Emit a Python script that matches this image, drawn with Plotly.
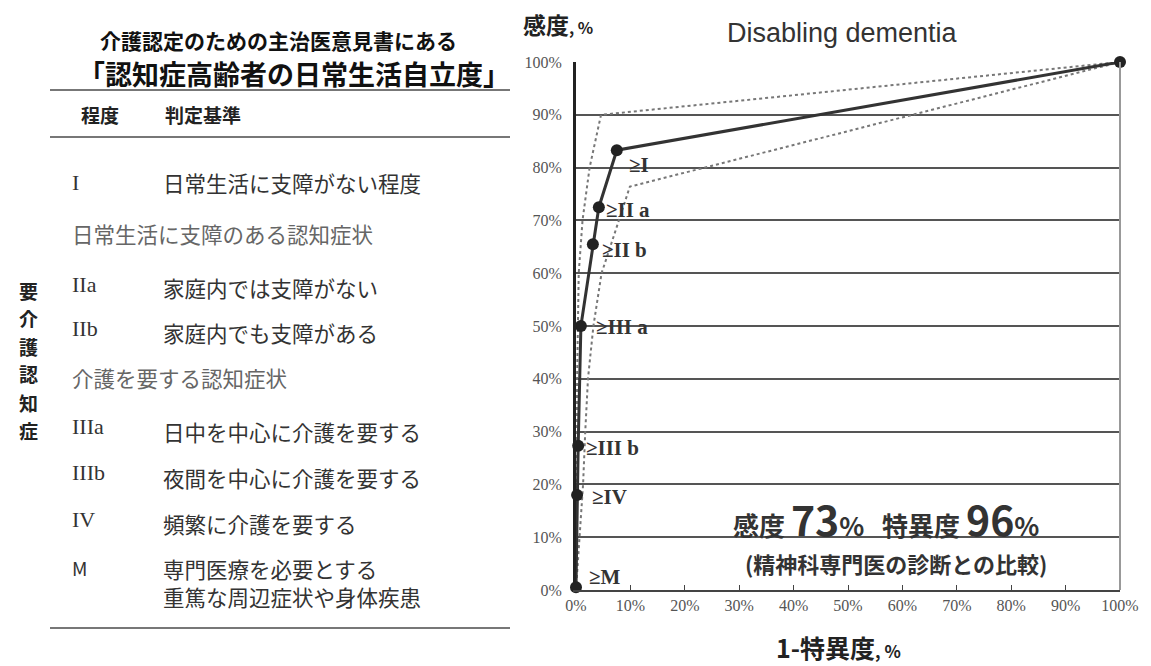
import plotly.graph_objects as go

# ---------------- data ----------------
fpr_pct = [0, 0.2, 0.4, 0.9, 3.1, 4.2, 7.5, 100]
sens_pct = [0.5, 18, 27.3, 50, 65.5, 72.5, 83.3, 100]
point_labels = ["≥M", "≥IV", "≥III b", "≥III a", "≥II b", "≥II a", "≥I", ""]

upper_x = [0, 0.1, 0.2, 0.5, 1.2, 2.5, 4.6, 100]
upper_y = [0, 20, 40, 60, 70, 80, 90, 100]
lower_x = [0, 0.7, 1.3, 1.7, 2.2, 3.2, 4.7, 6.3, 8.1, 9.9, 100]
lower_y = [0, 10, 20, 30, 40, 50, 60, 65, 70.7, 76.4, 100]

tick_vals = [0, 10, 20, 30, 40, 50, 60, 70, 80, 90, 100]
tick_text = [f"{v}%" for v in tick_vals]

table_title1 = "介護認定のための主治医意見書にある"
table_title2 = "「認知症高齢者の日常生活自立度」"
table_head = ["程度", "判定基準"]
grades = ["I", "IIa", "IIb", "IIIa", "IIIb", "IV", "M"]
criteria = ["日常生活に支障がない程度", "家庭内では支障がない", "家庭内でも支障がある",
            "日中を中心に介護を要する", "夜間を中心に介護を要する", "頻繁に介護を要する",
            "専門医療を必要とする<br>重篤な周辺症状や身体疾患"]
group_headers = ["日常生活に支障のある認知症状", "介護を要する認知症状"]
side_label = "要介護認知症"
summary_note = "(精神科専門医の診断との比較)"

# ---------------- layout helpers ----------------
W, H = 1151, 666
L, R, T, B = 576, 1120, 62, 590


def px(x):
    return (x - L) / (R - L)


def py(y):
    return (B - y) / (B - T)


JP = "Noto Sans CJK JP"
SERIF = "Liberation Serif"


def note(x, y, text, size, color="#333", family=JP, xanchor="center"):
    return dict(x=px(x), y=py(y), xref="paper", yref="paper", text=text,
                showarrow=False, xanchor=xanchor, yanchor="middle", align="left",
                font=dict(family=family, size=size, color=color))


fig = go.Figure()

# CI dotted lines
fig.add_trace(go.Scatter(x=upper_x, y=upper_y, mode="lines",
                         line=dict(color="#777", width=2, dash="dot"),
                         hoverinfo="skip", cliponaxis=False, showlegend=False))
fig.add_trace(go.Scatter(x=lower_x, y=lower_y, mode="lines",
                         line=dict(color="#777", width=2, dash="dot"),
                         hoverinfo="skip", cliponaxis=False, showlegend=False))
# main ROC curve
fig.add_trace(go.Scatter(x=fpr_pct, y=sens_pct, mode="lines+markers",
                         line=dict(color="#333", width=3),
                         marker=dict(color="#222", size=12),
                         cliponaxis=False, showlegend=False))

annotations = []
# point labels
label_offsets = [(11, 10), (13, -2), (6, -2), (13, -1), (7, -6), (5, -3), (10, -15), (0, 0)]
for xv, yv, lab, (dx, dy) in zip(fpr_pct, sens_pct, point_labels, label_offsets):
    if not lab:
        continue
    annotations.append(dict(x=xv, y=yv, xref="x", yref="y", text=f"<b>{lab}</b>",
                            showarrow=False, xanchor="left", yanchor="middle",
                            xshift=dx, yshift=dy,
                            font=dict(family=SERIF, size=21, color="#333")))

# chart title and axis titles
annotations.append(note(842, 33, "Disabling dementia", 27, "#333", "Liberation Sans"))
annotations.append(note(521, 24, "<b>感度</b><span style='font-size:16px'><b>, %</b></span>",
                        23, "#222", xanchor="left"))
annotations.append(note(838, 647, "<b>1-特異度</b><span style='font-size:17px'><b>, %</b></span>",
                        25, "#222"))

# summary text
annotations.append(note(886, 518,
                        ("<b>感度 <span style='font-size:41px'>73</span>%"
                         "&nbsp;&nbsp;&nbsp;特異度 <span style='font-size:41px'>96</span>%</b>"),
                        26, "#333"))
annotations.append(note(896, 563, f"<b>{summary_note}</b>", 22, "#333"))

# left table
annotations.append(note(278, 40, f"<b>{table_title1}</b>", 21, "#111"))
annotations.append(note(294, 74, f"<b>{table_title2}</b>", 27, "#111"))
annotations.append(note(79, 114, f"<b>{table_head[0]}</b>", 19, "#222", xanchor="left"))
annotations.append(note(163, 114, f"<b>{table_head[1]}</b>", 19, "#222", xanchor="left"))

grade_y = [182, 284, 328, 426, 472, 519, 567]
crit_y = [182, 287, 333, 431, 477, 523, 582]
for g, c, gy, cy in zip(grades, criteria, grade_y, crit_y):
    fam = SERIF if g.startswith("I") else JP
    annotations.append(note(70, gy, g, 22 if fam == SERIF else 19, "#333", fam, "left"))
    annotations.append(note(161, cy, c, 21.5, "#333", xanchor="left"))
for gh, gy in zip(group_headers, [233, 377]):
    annotations.append(note(70, gy, gh, 21.5, "#666", xanchor="left"))

# vertical side label, one character per line
n_side = len(side_label)
for i, ch in enumerate(side_label):
    annotations.append(note(28, 290 + i * (430 - 290) / (n_side - 1), f"<b>{ch}</b>", 19, "#222"))

shapes = []
for yline in [90, 137, 628]:
    shapes.append(dict(type="line", xref="paper", yref="paper",
                       x0=px(50), x1=px(510), y0=py(yline), y1=py(yline),
                       line=dict(color="#777", width=2)))
# right frame line
shapes.append(dict(type="line", xref="paper", yref="paper", x0=1, x1=1, y0=0, y1=1,
                   line=dict(color="#999", width=2)))

fig.update_layout(
    width=W, height=H,
    margin=dict(l=L, r=W - R, t=T, b=H - B),
    plot_bgcolor="white", paper_bgcolor="white",
    annotations=annotations, shapes=shapes,
    xaxis=dict(range=[0, 100], tickvals=tick_vals, ticktext=tick_text,
               showgrid=False, zeroline=False, showline=True, linecolor="#444",
               linewidth=2, mirror=False, ticks="inside", ticklen=5, tickcolor="#444",
               tickfont=dict(family=SERIF, size=16, color="#555"), fixedrange=True),
    yaxis=dict(range=[0, 100], tickvals=tick_vals, ticktext=tick_text,
               showgrid=True, gridcolor="#555", gridwidth=2, zeroline=False,
               showline=True, linecolor="#222", linewidth=3, ticks="",
               ticklabelstandoff=8,
               tickfont=dict(family=SERIF, size=16, color="#555"), fixedrange=True),
)

fig.write_html("out.html")
